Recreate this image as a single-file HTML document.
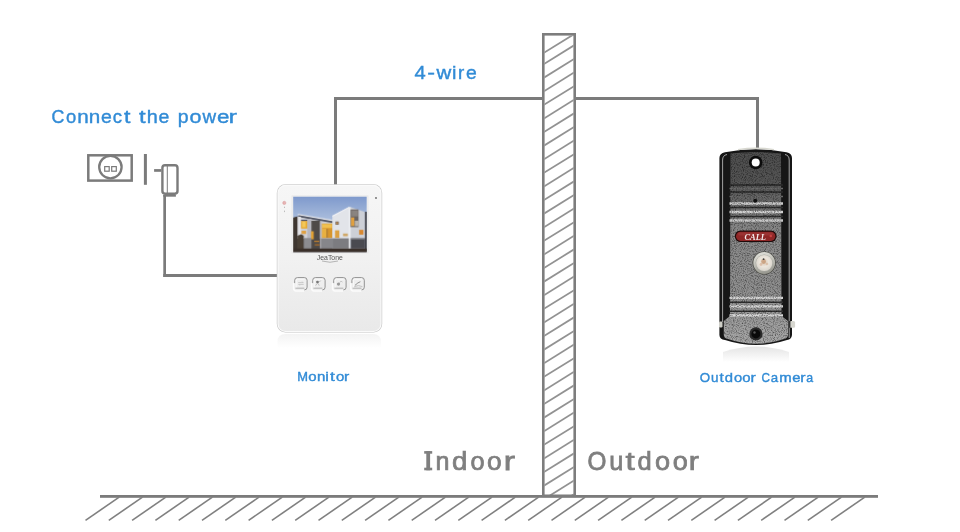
<!DOCTYPE html>
<html><head><meta charset="utf-8"><style>
html,body{margin:0;padding:0;background:#fff;width:960px;height:532px;overflow:hidden}
svg{display:block;will-change:transform}
text{font-family:"Liberation Sans",sans-serif}
</style></head><body>
<svg width="960" height="532" viewBox="0 0 960 532">
<defs>
<linearGradient id="refl" x1="0" y1="0" x2="0" y2="1"><stop offset="0" stop-color="#e4e4e4"/><stop offset="1" stop-color="#ffffff"/></linearGradient>
<linearGradient id="refl2" x1="0" y1="0" x2="0" y2="1"><stop offset="0" stop-color="#f3f3f3"/><stop offset="1" stop-color="#ffffff"/></linearGradient>
<linearGradient id="monbody" x1="0" y1="0" x2="0" y2="1">
<stop offset="0" stop-color="#f6f6f6"/><stop offset="0.5" stop-color="#f1f1f1"/><stop offset="1" stop-color="#e9e9e9"/></linearGradient>
<linearGradient id="sky" x1="0" y1="0" x2="0" y2="1">
<stop offset="0" stop-color="#7f9acd"/><stop offset="0.4" stop-color="#a9bcdc"/><stop offset="0.75" stop-color="#c4cfe3"/><stop offset="1" stop-color="#ccd5e6"/></linearGradient>
<linearGradient id="campanel" x1="0" y1="0" x2="0" y2="1">
<stop offset="0" stop-color="#4e4e4e"/><stop offset="0.17" stop-color="#555555"/><stop offset="0.4" stop-color="#888888"/><stop offset="0.75" stop-color="#909090"/><stop offset="1" stop-color="#a8a8a8"/></linearGradient>
<linearGradient id="lensring" x1="0" y1="0" x2="0.3" y2="1">
<stop offset="0" stop-color="#e6e6e0"/><stop offset="0.5" stop-color="#c4c4bc"/><stop offset="1" stop-color="#9a9a92"/></linearGradient>
<radialGradient id="lens" cx="0.5" cy="0.45" r="0.55">
<stop offset="0" stop-color="#d8c4b0"/><stop offset="0.5" stop-color="#ece6dc"/><stop offset="1" stop-color="#d8d4cc"/></radialGradient>
<filter id="speck" x="0" y="0" width="1" height="1">
<feTurbulence type="fractalNoise" baseFrequency="0.9" numOctaves="2" seed="3" result="n"/>
<feColorMatrix in="n" type="matrix" values="0 0 0 0 0  0 0 0 0 0  0 0 0 0 0  0 0 0 -2.2 1.25" result="a"/>
<feComposite in="SourceGraphic" in2="a" operator="in"/>
</filter>
<clipPath id="wallclip"><rect x="544.5" y="35.5" width="29" height="460"/></clipPath>
</defs>
<rect width="960" height="532" fill="#fff"/>

<!-- ground -->
<rect x="100" y="495" width="778" height="2.8" fill="#7b7b7b"/>
<g id="ghatch" stroke="#808080" stroke-width="1.6" stroke-linecap="butt"><line x1="119.2" y1="497.2" x2="85.5" y2="520.3"/><line x1="142.5" y1="497.2" x2="108.8" y2="520.3"/><line x1="165.8" y1="497.2" x2="132.1" y2="520.3"/><line x1="189.1" y1="497.2" x2="155.4" y2="520.3"/><line x1="212.4" y1="497.2" x2="178.7" y2="520.3"/><line x1="235.7" y1="497.2" x2="202.0" y2="520.3"/><line x1="259.0" y1="497.2" x2="225.3" y2="520.3"/><line x1="282.3" y1="497.2" x2="248.6" y2="520.3"/><line x1="305.6" y1="497.2" x2="271.9" y2="520.3"/><line x1="328.9" y1="497.2" x2="295.2" y2="520.3"/><line x1="352.2" y1="497.2" x2="318.5" y2="520.3"/><line x1="375.5" y1="497.2" x2="341.8" y2="520.3"/><line x1="398.8" y1="497.2" x2="365.1" y2="520.3"/><line x1="422.1" y1="497.2" x2="388.4" y2="520.3"/><line x1="445.4" y1="497.2" x2="411.7" y2="520.3"/><line x1="468.7" y1="497.2" x2="435.0" y2="520.3"/><line x1="492.0" y1="497.2" x2="458.3" y2="520.3"/><line x1="515.3" y1="497.2" x2="481.6" y2="520.3"/><line x1="538.6" y1="497.2" x2="504.9" y2="520.3"/><line x1="561.9" y1="497.2" x2="528.2" y2="520.3"/><line x1="585.2" y1="497.2" x2="551.5" y2="520.3"/><line x1="608.5" y1="497.2" x2="574.8" y2="520.3"/><line x1="631.8" y1="497.2" x2="598.1" y2="520.3"/><line x1="655.1" y1="497.2" x2="621.4" y2="520.3"/><line x1="678.4" y1="497.2" x2="644.7" y2="520.3"/><line x1="701.7" y1="497.2" x2="668.0" y2="520.3"/><line x1="725.0" y1="497.2" x2="691.3" y2="520.3"/><line x1="748.3" y1="497.2" x2="714.6" y2="520.3"/><line x1="771.6" y1="497.2" x2="737.9" y2="520.3"/><line x1="794.9" y1="497.2" x2="761.2" y2="520.3"/><line x1="818.2" y1="497.2" x2="784.5" y2="520.3"/><line x1="841.5" y1="497.2" x2="807.8" y2="520.3"/><line x1="864.8" y1="497.2" x2="831.1" y2="520.3"/></g>

<!-- wall -->
<g clip-path="url(#wallclip)" stroke="#929292" stroke-width="1.75" id="whatch"><line x1="540" y1="55.3" x2="578" y2="31.7"/><line x1="540" y1="66.5" x2="578" y2="42.9"/><line x1="540" y1="80.1" x2="578" y2="56.5"/><line x1="540" y1="93.7" x2="578" y2="70.1"/><line x1="540" y1="107.3" x2="578" y2="83.7"/><line x1="540" y1="120.9" x2="578" y2="97.3"/><line x1="540" y1="134.5" x2="578" y2="110.9"/><line x1="540" y1="148.1" x2="578" y2="124.5"/><line x1="540" y1="161.7" x2="578" y2="138.1"/><line x1="540" y1="175.3" x2="578" y2="151.7"/><line x1="540" y1="188.9" x2="578" y2="165.3"/><line x1="540" y1="202.5" x2="578" y2="178.9"/><line x1="540" y1="216.1" x2="578" y2="192.5"/><line x1="540" y1="229.7" x2="578" y2="206.1"/><line x1="540" y1="243.3" x2="578" y2="219.7"/><line x1="540" y1="256.9" x2="578" y2="233.3"/><line x1="540" y1="270.5" x2="578" y2="246.9"/><line x1="540" y1="284.1" x2="578" y2="260.5"/><line x1="540" y1="297.7" x2="578" y2="274.1"/><line x1="540" y1="311.3" x2="578" y2="287.7"/><line x1="540" y1="324.9" x2="578" y2="301.3"/><line x1="540" y1="338.5" x2="578" y2="314.9"/><line x1="540" y1="352.1" x2="578" y2="328.5"/><line x1="540" y1="365.7" x2="578" y2="342.1"/><line x1="540" y1="379.3" x2="578" y2="355.7"/><line x1="540" y1="392.9" x2="578" y2="369.3"/><line x1="540" y1="406.5" x2="578" y2="382.9"/><line x1="540" y1="420.1" x2="578" y2="396.5"/><line x1="540" y1="433.7" x2="578" y2="410.1"/><line x1="540" y1="447.3" x2="578" y2="423.7"/><line x1="540" y1="460.9" x2="578" y2="437.3"/><line x1="540" y1="474.5" x2="578" y2="450.9"/><line x1="540" y1="488.1" x2="578" y2="464.5"/><line x1="540" y1="501.7" x2="578" y2="478.1"/><line x1="540" y1="515.3" x2="578" y2="491.7"/><line x1="540" y1="528.9" x2="578" y2="505.3"/><line x1="540" y1="542.5" x2="578" y2="518.9"/></g>
<rect x="543.3" y="34.3" width="31.4" height="461.5" fill="none" stroke="#7d7d7d" stroke-width="2.6"/>

<!-- wires -->
<g fill="#7b7b7b">
<rect x="334" y="97" width="3" height="88"/>
<rect x="334" y="97" width="208" height="3"/>
<rect x="576" y="97" width="183" height="3"/>
<rect x="756" y="97" width="3" height="51"/>
<rect x="163.3" y="195" width="2.7" height="82"/>
<rect x="163.3" y="274" width="114" height="3"/>
</g>

<!-- outlet -->
<g fill="none" stroke="#7b7b7b">
<rect x="88.3" y="155.3" width="43.4" height="25.3" stroke-width="2.5"/>
<circle cx="110.4" cy="167.1" r="11.2" stroke-width="2.3"/>
<rect x="104.7" y="166.6" width="4.5" height="4.6" stroke-width="1.2"/>
<rect x="111.7" y="166.6" width="4.6" height="4.6" stroke-width="1.2"/>
<rect x="162.4" y="165.3" width="15.1" height="28.4" rx="2.6" stroke-width="2.4"/>
<line x1="167.3" y1="165" x2="167.3" y2="193" stroke-width="1"/>
</g>
<g fill="#7b7b7b">
<rect x="143.9" y="154" width="3" height="30.8"/>
<rect x="154.1" y="169.1" width="7.2" height="2.7"/>
<rect x="163.3" y="194.7" width="12.6" height="2"/>
</g>

<!-- texts -->
<g fill="#318bd6" stroke="#318bd6" stroke-width="0.4"><text transform="translate(52.10,0) scale(0.928,1)" x="-0.77" y="122.8" font-size="19.2">C</text><text transform="translate(66.70,0) scale(0.961,1)" x="-0.61" y="122.8" font-size="19.2">o</text><text transform="translate(78.30,0) scale(1.075,1)" x="-1.07" y="122.8" font-size="19.2">n</text><text transform="translate(90.00,0) scale(1.075,1)" x="-1.07" y="122.8" font-size="19.2">n</text><text transform="translate(101.70,0) scale(1.015,1)" x="-0.62" y="122.8" font-size="19.2">e</text><text transform="translate(113.30,0) scale(0.968,1)" x="-0.62" y="122.8" font-size="19.2">c</text><text transform="translate(124.00,0) scale(1.207,1)" x="-0.09" y="122.8" font-size="19.2">t</text><text transform="translate(139.20,0) scale(1.245,1)" x="-0.09" y="122.8" font-size="19.2">t</text><text transform="translate(147.90,0) scale(1.035,1)" x="-1.13" y="122.8" font-size="19.2">h</text><text transform="translate(159.20,0) scale(1.015,1)" x="-0.62" y="122.8" font-size="19.2">e</text><text transform="translate(178.75,0) scale(1.013,1)" x="-1.04" y="122.8" font-size="19.2">p</text><text transform="translate(190.30,0) scale(1.120,1)" x="-0.61" y="122.8" font-size="19.2">o</text><text transform="translate(202.20,0) scale(0.980,1)" x="0.23" y="122.8" font-size="19.2">w</text><text transform="translate(217.80,0) scale(1.164,1)" x="-0.62" y="122.8" font-size="19.2">e</text><text transform="translate(230.00,0) scale(1.327,1)" x="-1.07" y="122.8" font-size="19.2">r</text></g>
<g fill="#318bd6" stroke="#318bd6" stroke-width="0.4"><text transform="translate(414.70,0) scale(1.125,1)" x="-0.21" y="78.6" font-size="17.9">4</text><text transform="translate(427.90,0) scale(1.300,1)" x="-0.60" y="78.6" font-size="17.9">-</text><text transform="translate(436.30,0) scale(1.142,1)" x="0.23" y="78.6" font-size="17.9">w</text><text transform="translate(453.00,0) scale(1.115,1)" x="-1.00" y="78.6" font-size="17.9">i</text><text transform="translate(458.90,0) scale(1.046,1)" x="-0.99" y="78.6" font-size="17.9">r</text><text transform="translate(466.50,0) scale(1.080,1)" x="-0.56" y="78.6" font-size="17.9">e</text></g>
<g fill="#318bd6" stroke="#318bd6" stroke-width="0.4"><text transform="translate(298.10,0) scale(0.954,1)" x="-0.91" y="380.6" font-size="13.5">M</text><text transform="translate(308.70,0) scale(1.107,1)" x="-0.37" y="380.6" font-size="13.5">o</text><text transform="translate(317.75,0) scale(1.117,1)" x="-0.70" y="380.6" font-size="13.5">n</text><text transform="translate(326.20,0) scale(1.198,1)" x="-0.70" y="380.6" font-size="13.5">i</text><text transform="translate(329.90,0) scale(1.300,1)" x="-0.00" y="380.6" font-size="13.5">t</text><text transform="translate(336.50,0) scale(1.107,1)" x="-0.37" y="380.6" font-size="13.5">o</text><text transform="translate(344.90,0) scale(1.166,1)" x="-0.70" y="380.6" font-size="13.5">r</text></g>
<g fill="#318bd6" stroke="#318bd6" stroke-width="0.4"><text transform="translate(700.10,0) scale(0.981,1)" x="-0.44" y="381.6" font-size="13.6">O</text><text transform="translate(711.60,0) scale(0.987,1)" x="-0.68" y="381.6" font-size="13.6">u</text><text transform="translate(719.40,0) scale(1.136,1)" x="-0.01" y="381.6" font-size="13.6">t</text><text transform="translate(725.10,0) scale(1.090,1)" x="-0.37" y="381.6" font-size="13.6">d</text><text transform="translate(734.30,0) scale(1.085,1)" x="-0.37" y="381.6" font-size="13.6">o</text><text transform="translate(742.70,0) scale(1.099,1)" x="-0.37" y="381.6" font-size="13.6">o</text><text transform="translate(751.20,0) scale(1.158,1)" x="-0.70" y="381.6" font-size="13.6">r</text><text transform="translate(761.80,0) scale(0.865,1)" x="-0.49" y="381.6" font-size="13.6">C</text><text transform="translate(771.20,0) scale(0.975,1)" x="-0.38" y="381.6" font-size="13.6">a</text><text transform="translate(780.00,0) scale(1.098,1)" x="-0.70" y="381.6" font-size="13.6">m</text><text transform="translate(792.60,0) scale(1.091,1)" x="-0.38" y="381.6" font-size="13.6">e</text><text transform="translate(801.00,0) scale(1.158,1)" x="-0.70" y="381.6" font-size="13.6">r</text><text transform="translate(806.50,0) scale(0.907,1)" x="-0.38" y="381.6" font-size="13.6">a</text></g>
<g fill="#7f7f7f" stroke="#7f7f7f" stroke-width="0.75"><text transform="translate(436.80,0) scale(0.970,1)" x="-1.34" y="470.3" font-size="25.9">n</text><text transform="translate(452.80,0) scale(1.065,1)" x="-0.71" y="470.3" font-size="25.9">d</text><text transform="translate(471.10,0) scale(0.978,1)" x="-0.71" y="470.3" font-size="25.9">o</text><text transform="translate(487.80,0) scale(1.017,1)" x="-0.71" y="470.3" font-size="25.9">o</text><text transform="translate(505.50,0) scale(1.301,1)" x="-1.34" y="470.3" font-size="25.9">r</text></g>
<g fill="#7f7f7f" stroke="#7f7f7f" stroke-width="0.75"><text transform="translate(588.40,0) scale(0.939,1)" x="-0.85" y="469.6" font-size="25.9">O</text><text transform="translate(610.50,0) scale(0.979,1)" x="-1.31" y="469.6" font-size="25.9">u</text><text transform="translate(625.40,0) scale(1.276,1)" x="-0.02" y="469.6" font-size="25.9">t</text><text transform="translate(638.20,0) scale(0.984,1)" x="-0.71" y="469.6" font-size="25.9">d</text><text transform="translate(655.80,0) scale(1.048,1)" x="-0.71" y="469.6" font-size="25.9">o</text><text transform="translate(673.40,0) scale(1.048,1)" x="-0.71" y="469.6" font-size="25.9">o</text><text transform="translate(690.40,0) scale(1.176,1)" x="-1.34" y="469.6" font-size="25.9">r</text></g>
<g fill="#7f7f7f"><rect x="424.2" y="451.1" width="8" height="2.6"/><rect x="424.2" y="467.7" width="8" height="2.6"/><rect x="426.3" y="451.1" width="3.8" height="19.2"/></g>

<!-- monitor -->
<g id="monitor">
<path d="M277.5 342 Q277.5 334 285.5 334 L373 334 Q381 334 381 342 L381 348 L277.5 348 Z" fill="url(#refl2)"/>
<rect x="276.8" y="184.3" width="105.4" height="148.2" rx="8.5" fill="#c4c4c4"/>
<rect x="277.4" y="184.8" width="104.2" height="147.1" rx="8" fill="#fafafa"/>
<rect x="278.6" y="186" width="101.8" height="145" rx="7" fill="url(#monbody)"/>
<rect x="291.6" y="195.5" width="76.8" height="57.8" fill="#e6e6e6"/>
<rect x="292.6" y="196.4" width="74.8" height="56" fill="#f6f6f6"/>
<g transform="translate(293.2,196.7)">
<svg x="0" y="0" width="73.6" height="55.5" viewBox="0 0 73.6 55.5" preserveAspectRatio="none">
<rect width="73.6" height="55.5" fill="url(#sky)"/>
<!-- left building -->
<polygon points="0,21 4.7,19.5 39.5,25 39.5,53 0,53" fill="#4c4644"/>
<polygon points="4.2,19.8 39.5,25.6 39.5,42 4.2,42" fill="#cfd0d6"/>
<polygon points="4.7,17.3 39.5,23.2 39.5,24.6 4.7,18.6" fill="#f2f2f4"/>
<polygon points="5.5,18.6 39.5,24.6 39.5,26.2 5.5,20.2" fill="#4a4e5c"/>
<rect x="4.2" y="20" width="3.6" height="22" fill="#e4e4e8"/>
<rect x="7.8" y="23" width="6.3" height="1.2" fill="#3a4466"/>
<rect x="7.8" y="24.2" width="6.3" height="7.6" fill="#e6a830"/>
<rect x="9" y="25" width="3.5" height="5.5" fill="#f4c858"/>
<rect x="8.3" y="34" width="4.5" height="3.2" fill="#e0a040"/>
<rect x="14.1" y="22" width="4.1" height="30" fill="#b8b8c0"/>
<rect x="18.2" y="24" width="8.6" height="28" fill="#4e4a48"/>
<rect x="17.8" y="34.5" width="2.7" height="8.1" fill="#e0a030"/>
<rect x="21" y="44" width="5" height="1.2" fill="#c08030"/>
<rect x="21.5" y="47.5" width="5" height="1.2" fill="#b07028"/>
<rect x="26.8" y="25" width="1.8" height="27" fill="#c0c0c8"/>
<rect x="28.6" y="26.8" width="10.4" height="14.5" fill="#d8962c"/>
<rect x="29" y="27.3" width="9.8" height="4" fill="#f0c050"/>
<rect x="29" y="32" width="4" height="8.8" fill="#e8b040"/>
<rect x="33.6" y="32" width="0.7" height="9" fill="#8a6a40"/>
<polygon points="0,20.9 4.2,20 4.2,53 0,53" fill="#3e3630"/>
<polygon points="4.2,39 8,37.5 10.5,39 10.5,53.3 4.2,53.3" fill="#4a4036"/>
<rect x="10.5" y="41.3" width="7.7" height="11" fill="#8c8c90"/>
<rect x="27.7" y="41.7" width="11.8" height="10.8" fill="#86868a"/>
<!-- right building -->
<polygon points="39.1,19.1 56.2,10 56.2,52 39.1,52" fill="#e2e4e9"/>
<polygon points="39.1,19.1 56.2,10 56.2,10.8 39.1,19.9" fill="#f8f8fa"/>
<polygon points="56.2,10 71.8,15.3 71.8,41.6 56.2,41.6" fill="#cdd0d7"/>
<rect x="55.5" y="10.5" width="2" height="41.5" fill="#eceef2"/>
<rect x="57.3" y="12.7" width="8" height="17.7" fill="#6a6462"/>
<rect x="58.3" y="13.7" width="6.5" height="6" fill="#8a8480"/>
<rect x="57.8" y="20.7" width="3.3" height="8.6" fill="#e0a040"/>
<rect x="61.5" y="24" width="3.5" height="5.5" fill="#b8b4ae"/>
<rect x="42.3" y="24.8" width="3.2" height="3.2" fill="#6a5a50"/>
<rect x="43" y="25.5" width="1.8" height="1.8" fill="#c89050"/>
<rect x="41.8" y="33.6" width="4.3" height="7.5" fill="#dca040"/>
<rect x="65.9" y="33.1" width="4.3" height="4.8" fill="#d88830"/>
<rect x="49.8" y="36.8" width="4.8" height="2.7" fill="#d0a868"/>
<rect x="39.1" y="41.6" width="16.5" height="10.2" fill="#7c7c80"/>
<rect x="57.5" y="41.6" width="14.3" height="10.2" fill="#4a4a50"/>
<rect x="57.5" y="41.6" width="14.3" height="1" fill="#8a8a90"/>
<rect x="71.8" y="15" width="1.8" height="40" fill="#3a3a40"/>
<rect x="0" y="51.8" width="73.6" height="3.7" fill="#3a302a"/>
</svg>
</g>
<circle cx="284.3" cy="202.9" r="1.6" fill="#e6b4b4" stroke="#d89898" stroke-width="0.5"/>
<rect x="284" y="206.7" width="0.8" height="1.3" fill="#b0b0b0"/>
<rect x="284" y="210.6" width="0.8" height="1.5" fill="#b0b0b0"/>
<circle cx="376" cy="198" r="0.9" fill="#666"/>
<text x="329.8" y="260" font-size="6.4" fill="#555" text-anchor="middle" textLength="26" lengthAdjust="spacingAndGlyphs">JeaTone</text>
<path d="M322 261 Q330 263.5 338 261" stroke="#777" stroke-width="0.5" fill="none"/>
<g fill="none" stroke="#fbfbfb" stroke-width="1.6">
<path d="M293.6 283.1 V287.9 Q293.6 291.0 297.2 291.0 H304.1"/>
<path d="M311.6 283.1 V287.9 Q311.6 291.0 315.2 291.0 H322.1"/>
<path d="M332.6 283.1 V287.9 Q332.6 291.0 336.2 291.0 H343.1"/>
<path d="M350.8 283.1 V287.9 Q350.8 291.0 354.4 291.0 H361.3"/>
</g>
<g fill="none" stroke="#8c8c8c" stroke-width="0.95">
<path d="M294.7 283.1 V280.3 Q294.7 277.6 297.4 277.6 H304.4 Q307.1 277.6 307.1 280.3 V287.2 Q307.1 289.9 304.4 289.9"/>
<path d="M312.7 283.1 V280.3 Q312.7 277.6 315.4 277.6 H322.4 Q325.1 277.6 325.1 280.3 V287.2 Q325.1 289.9 322.4 289.9"/>
<path d="M333.7 283.1 V280.3 Q333.7 277.6 336.4 277.6 H343.4 Q346.1 277.6 346.1 280.3 V287.2 Q346.1 289.9 343.4 289.9"/>
<path d="M351.9 283.1 V280.3 Q351.9 277.6 354.6 277.6 H361.6 Q364.3 277.6 364.3 280.3 V287.2 Q364.3 289.9 361.6 289.9"/>
</g>
<g fill="none" stroke="#fdfdfd" stroke-width="0.8">
<path d="M296.2 288.4 V280.1 Q296.2 279.1 297.4 279.1 H304.6"/>
<path d="M314.2 288.4 V280.1 Q314.2 279.1 315.4 279.1 H322.6"/>
<path d="M335.2 288.4 V280.1 Q335.2 279.1 336.4 279.1 H343.6"/>
<path d="M353.4 288.4 V280.1 Q353.4 279.1 354.6 279.1 H361.8"/>
</g>
<g fill="#a8a8a8">
<rect x="295.4" y="287.7" width="8.9" height="0.9"/>
<rect x="313.4" y="287.7" width="8.9" height="0.9"/>
<rect x="334.4" y="287.7" width="8.9" height="0.9"/>
<rect x="352.6" y="287.7" width="8.9" height="0.9"/>
</g>
<path d="M298.2 282.6 h5 l-1 -1 M303.7 284.4 h-5 l1 1" stroke="#b0b0b0" stroke-width="0.6" fill="none"/>
<circle cx="317.5" cy="282.1" r="1.4" fill="#777"/><path d="M315.7 285.6 l1.2 -2 M319.2 285.6 l-1 -2 M319.2 282.1 l1.5 -1.5" stroke="#999" stroke-width="0.6" fill="none"/>
<circle cx="338.5" cy="284.1" r="1.6" fill="#999"/><path d="M339.5 282.6 q1.5 -2.5 3 -0.5" stroke="#aaa" stroke-width="0.6" fill="none"/>
<path d="M354.9 285.4 l3 -2.5 l2.5 -1.2" stroke="#888" stroke-width="0.9" fill="none"/><path d="M354.4 286.6 q4 -2 8 0" stroke="#bbb" stroke-width="0.9" fill="none"/>
</g>

<!-- camera -->
<g id="camera">
<path d="M723 352 Q756 341 789 352 L789 362 L723 362 Z" fill="url(#refl)"/>
<path d="M719.4 158 Q719.4 153.5 725 152.3 Q755.7 146 786.5 152.3 Q792 153.5 792 158 L792 335 Q791.5 339.5 787 340 Q756 350 725 340 Q719.6 339.5 719.4 335 Z" fill="#161616"/>
<path d="M738 149.6 Q756 147 774 149.6" stroke="#d8d8d0" stroke-width="1.4" fill="none"/>
<path d="M722.6 322 V160 Q722.6 155.3 727 154.5" stroke="#b0b0b0" stroke-width="0.9" fill="none"/>
<path d="M789.2 338 V160 Q789.2 155.3 785 154.5" stroke="#b8b8b8" stroke-width="0.9" fill="none"/>
<path d="M730.5 153.5 Q756 150.5 781 153.5 L781.5 316 L788 321 L788 335 Q787.5 338.5 784 339 Q756 348.5 728 339 Q724 338.5 723.8 335 L723.8 321 L730 316 Z" fill="url(#campanel)"/>
<g stroke-width="1.6">
<path d="M729.5 185 H783" stroke="#2a2a2a"/>
<path d="M729.5 188.5 H783" stroke="#6a6a6a"/>
<path d="M729.5 192 H783" stroke="#2a2a2a"/>
<path d="M729.5 196.5 H783" stroke="#6a6a6a"/>
<path d="M729.5 203.5 H783" stroke="#cccccc" stroke-width="2.3"/>
<path d="M729.5 207.5 H783" stroke="#303030"/>
<path d="M729.5 212 H783" stroke="#d0d0d0" stroke-width="2.3"/>
<path d="M729.5 216.5 H783" stroke="#303030"/>
<path d="M729.5 220.5 H783" stroke="#c8c8c8" stroke-width="2.3"/>
<path d="M729.5 297.8 H783" stroke="#d4d4d4" stroke-width="2.3"/>
<path d="M729.5 302.3 H783" stroke="#303030"/>
<path d="M729.5 306.3 H783" stroke="#d4d4d4" stroke-width="2.3"/>
<path d="M729.5 311.3 H783" stroke="#303030"/>
<path d="M729.5 315.3 H783" stroke="#d8d8d8" stroke-width="2.3"/>
</g>
<path d="M730.5 153.5 Q756 150.5 781 153.5 L781.5 316 L788 321 L788 335 Q787.5 338.5 784 339 Q756 348.5 728 339 Q724 338.5 723.8 335 L723.8 321 L730 316 Z" fill="#000" filter="url(#speck)" opacity="0.55"/>

<circle cx="755.7" cy="162.5" r="6.8" fill="#0c0c0c"/>
<circle cx="755.7" cy="162.5" r="4" fill="#fdfdfd"/>
<circle cx="755.2" cy="200.7" r="2" fill="#111"/>
<rect x="734.8" y="230.4" width="41.8" height="11.7" rx="5.8" fill="#1e0a0a"/>
<rect x="736" y="231.7" width="39.4" height="9.2" rx="4.6" fill="#8e2626"/>
<rect x="738" y="232.6" width="35" height="3" rx="1.5" fill="#a84040" opacity="0.5"/>
<text x="755.2" y="239.8" style="font-family:'Liberation Serif',serif;font-style:italic;font-weight:bold" font-size="8.4" fill="#f4eeee" text-anchor="middle" textLength="21.5" lengthAdjust="spacingAndGlyphs">CALL</text>
<circle cx="770.8" cy="236" r="1.3" fill="#c84040"/>
<circle cx="764.2" cy="263" r="11.6" fill="#4a4a44"/>
<circle cx="764.2" cy="263" r="10.9" fill="url(#lensring)"/>
<circle cx="764.2" cy="263" r="8.6" fill="#a8a8a0"/>
<circle cx="764.2" cy="263" r="8.1" fill="url(#lens)"/>
<circle cx="763.6" cy="261.5" r="2.4" fill="#c08a60" opacity="0.6"/>
<circle cx="761" cy="264.5" r="1.4" fill="#d0a080" opacity="0.5"/>
<circle cx="767" cy="264" r="1.3" fill="#d0a888" opacity="0.5"/>
<circle cx="763.6" cy="259.2" r="0.9" fill="#404040"/>
<circle cx="755.9" cy="333.9" r="6.6" fill="#2a2a2a"/>
<circle cx="755.9" cy="333.9" r="4.5" fill="#0a0a0a"/>
<circle cx="754.5" cy="332.5" r="1.2" fill="#555"/>
<rect x="719" y="321.5" width="3.5" height="6" rx="1.2" fill="#cfcfc8"/>
<rect x="789.5" y="321" width="5.6" height="6.8" rx="1.5" fill="#d6d6cf"/>
<rect x="789" y="321" width="1.4" height="6.8" fill="#333"/>
</g>
</svg>
</body></html>
